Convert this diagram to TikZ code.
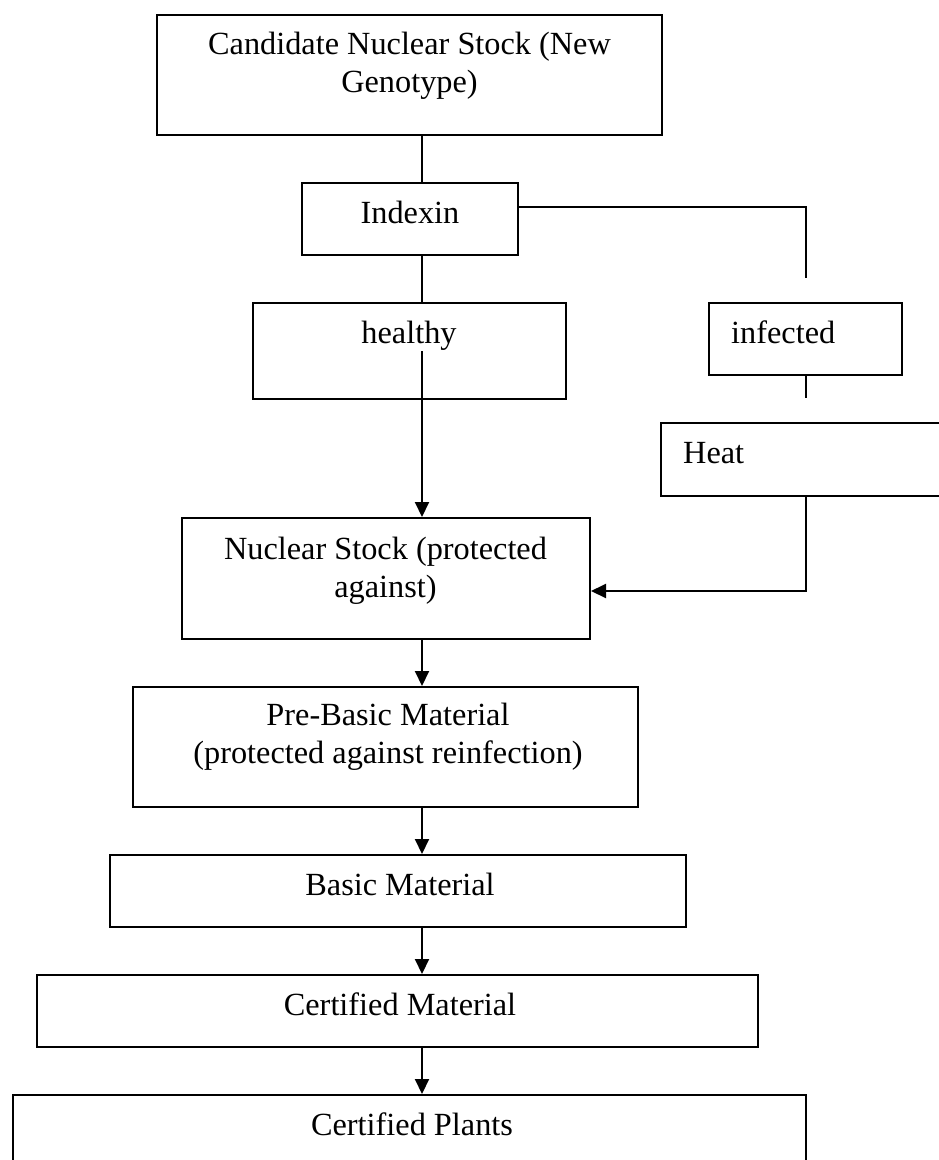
\documentclass[tikz,border=0pt]{standalone}
\usepackage{fontspec}
\setmainfont{Liberation Serif}
\usetikzlibrary{arrows.meta}
\begin{document}
\begin{tikzpicture}[x=1pt,y=-1pt,
  bx/.style={draw, line width=2pt, inner sep=0pt, minimum width=#1},
  lbl/.style={font=\fontsize{32.3}{38}\selectfont, align=center, inner sep=0pt, anchor=base},
  conn/.style={line width=2pt},
  arr/.style={line width=2pt, -{Triangle[length=15pt,width=14pt]}}]
\useasboundingbox (0,0) rectangle (938,1160);
\coordinate (spine) at (422,0);
% boxes
\node[bx=505pt, minimum height=120pt] (cand) at (409.5,75) {};
\node[bx=216pt, minimum height=72pt] (idx) at (410,219) {};
\node[bx=313pt, minimum height=96pt] (hl) at (409.5,351) {};
\node[bx=193pt, minimum height=72pt] (inf) at (805.5,339) {};
\node[bx=299pt, minimum height=73pt] (heat) at (810.5,459.5) {};
\node[bx=408pt, minimum height=121pt] (ns) at (386,578.5) {};
\node[bx=505pt, minimum height=120pt] (pb) at (385.5,747) {};
\node[bx=576pt, minimum height=72pt] (bm) at (398,891) {};
\node[bx=721pt, minimum height=72pt] (cm) at (397.5,1011) {};
\node[bx=793pt, minimum height=85pt] (cp) at (409.5,1137.5) {};
% texts (multi-line nodes are anchored at the baseline of their last line)
\node[lbl] (tcand) at (409.5,92) {Candidate Nuclear Stock (New\\Genotype)};
\node[lbl] (tidx) at (410,223) {Indexin};
\node[lbl] (thl) at (409,343) {healthy};
\node[lbl, anchor=base west] (tinf) at (731,343) {infected};
\node[lbl, anchor=base west] (theat) at (683,463) {Heat};
\node[lbl] (tns) at (385.5,597) {Nuclear Stock (protected\\against)};
\node[lbl] (tpb) at (388,763) {Pre-Basic Material\\(protected against reinfection)};
\node[lbl] (tbm) at (400,895) {Basic Material};
\node[lbl] (tcm) at (400,1015) {Certified Material};
\node[lbl] (tcp) at (412,1135) {Certified Plants};
% connectors
\draw[conn] (cand.south -| spine) -- (idx.north -| spine);
\draw[conn] (idx.south -| spine) -- (hl.north -| spine);
\draw[conn, shorten >=24pt] ([yshift=12pt]idx.east) -| (inf.north);
\draw[conn, shorten >=24pt] (inf.south) -- (inf.south |- heat.north);
\draw[arr] (hl.center -| spine) -- (ns.north -| spine);
\draw[arr] (inf.south |- heat.south) |- ([yshift=-12.5pt]ns.east);
\draw[arr] (ns.south -| spine) -- (pb.north -| spine);
\draw[arr] (pb.south -| spine) -- (bm.north -| spine);
\draw[arr] (bm.south -| spine) -- (cm.north -| spine);
\draw[arr] (cm.south -| spine) -- (cp.north -| spine);
\end{tikzpicture}
\end{document}
